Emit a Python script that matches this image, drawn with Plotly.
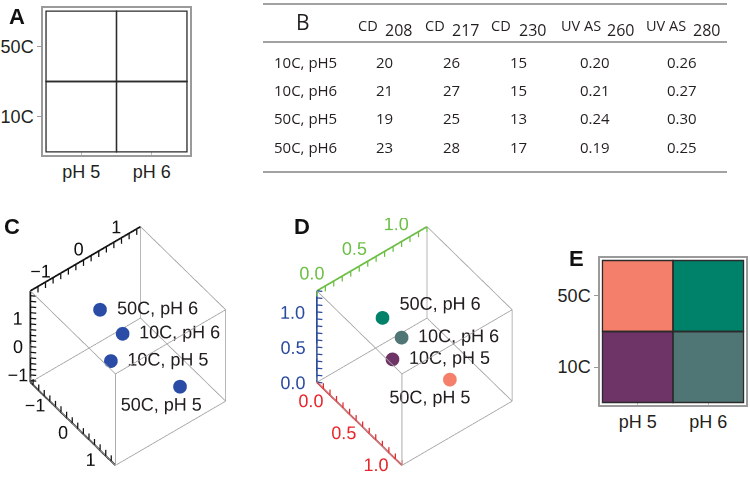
import numpy as np
import plotly.graph_objects as go

W, H = 750, 478

# ---------------- data ----------------
temps = ["10C", "50C"]
phs = ["pH 5", "pH 6"]
conditions = ["10C, pH 5", "10C, pH 6", "50C, pH 5", "50C, pH 6"]
row_labels = ["10C, pH5", "10C, pH6", "50C, pH5", "50C, pH6"]
col_main = ["CD", "CD", "CD", "UV AS", "UV AS"]
col_sub = ["208", "217", "230", "260", "280"]
cd208 = [20, 21, 19, 23]
cd217 = [26, 27, 25, 28]
cd230 = [15, 15, 13, 17]
uv260 = [0.20, 0.21, 0.24, 0.19]
uv280 = [0.26, 0.27, 0.30, 0.25]

# panel C (principal components)
pc1 = [0.06, -0.54, 1.38, -1.20]
pc2 = [-0.43, 0.32, 0.42, 0.21]
pc3 = [0.24, 0.04, -0.06, 0.34]

# panel D (normalised components)
nr = [0.48, 0.36, 1.02, 0.03]
ng = [0.52, 0.72, 0.78, 0.75]
nb = [0.40, 0.46, 0.42, 0.42]

cond_colors = ["#6E3467", "#4F7674", "#F4806B", "#00826A"]

C_range = [[-1.5, 1.55], [-1.4, 1.5], [-1.26, 1.97]]
D_range = [[0.0, 1.3], [0.0, 1.3], [0.0, 1.3]]
C_ticks = [-1, 0, 1]
D_ticks = [0.0, 0.5, 1.0]

# label placement (styling only): text position and small nudges in data units
c_text_pos = ["middle right", "middle right", "middle center", "middle right"]
c_nudge = [(0, 0, 0), (0, 0, 0), (0, -0.494, -0.30), (0, 0, 0)]
d_text_pos = ["middle right", "middle right", "middle center", "middle right"]
d_nudge = [(0, 0, 0), (0, 0, 0), (0, -0.236, -0.107), (0, 0, 0.18)]


def px(x):
    return x / W


def py(y):
    return 1 - y / H


fig = go.Figure()

# ---------------- panel A ----------------
fig.add_trace(go.Heatmap(x=phs, y=temps, z=[[0, 0], [0, 0]],
                         colorscale=[[0, "white"], [1, "white"]], showscale=False,
                         xaxis="x", yaxis="y", hoverinfo="skip"))

# ---------------- panel E ----------------
zidx = [[conditions.index(f"{t}, {p}") for p in phs] for t in temps]
cscale = [[k / 3, c] for k, c in enumerate(cond_colors)]
fig.add_trace(go.Heatmap(x=phs, y=temps, z=zidx, zmin=0, zmax=3,
                         colorscale=cscale, showscale=False,
                         xaxis="x2", yaxis="y2", hoverinfo="skip"))

shapes = []
for xa_, ya_ in (("x", "y"), ("x2", "y2")):
    for i in range(len(phs)):
        for j in range(len(temps)):
            shapes.append(dict(type="rect", xref=xa_, yref=ya_,
                               x0=i - 0.5, x1=i + 0.5, y0=j - 0.5, y1=j + 0.5,
                               line=dict(color="#2b2b2b", width=1.3), layer="above"))

# ---------------- 3D helpers ----------------

def box_edges(rng):
    xs, ys, zs = [], [], []
    (x0, x1), (y0, y1), (z0, z1) = rng
    for a in (y0, y1):
        for b in (z0, z1):
            xs += [x0, x1, None]; ys += [a, a, None]; zs += [b, b, None]
    for a in (x0, x1):
        for b in (z0, z1):
            xs += [a, a, None]; ys += [y0, y1, None]; zs += [b, b, None]
    for a in (x0, x1):
        for b in (y0, y1):
            xs += [a, a, None]; ys += [b, b, None]; zs += [z0, z1, None]
    return xs, ys, zs


def axis_traces(scene, rng, idx, fixed, tickvals, tdir, tlen, loff, labels_at, color, fmt):
    spans = [r[1] - r[0] for r in rng]
    traces = []
    p0 = list(fixed); p1 = list(fixed)
    p0[idx] = rng[idx][0]; p1[idx] = rng[idx][1]
    traces.append(go.Scatter3d(x=[p0[0], p1[0]], y=[p0[1], p1[1]], z=[p0[2], p1[2]],
                               mode="lines", line=dict(color=color, width=3.5),
                               scene=scene, hoverinfo="skip", showlegend=False))
    xs, ys, zs = [], [], []
    for v in tickvals:
        a = list(fixed); a[idx] = v
        b = [a[k] + tdir[k] * tlen * spans[k] for k in range(3)]
        xs += [a[0], b[0], None]; ys += [a[1], b[1], None]; zs += [a[2], b[2], None]
    traces.append(go.Scatter3d(x=xs, y=ys, z=zs, mode="lines",
                               line=dict(color=color, width=2.5),
                               scene=scene, hoverinfo="skip", showlegend=False))
    lx, ly, lz, lt = [], [], [], []
    for v in labels_at:
        a = list(fixed); a[idx] = v
        b = [a[k] + loff[k] * spans[k] for k in range(3)]
        lx.append(b[0]); ly.append(b[1]); lz.append(b[2]); lt.append(fmt(v))
    traces.append(go.Scatter3d(x=lx, y=ly, z=lz, mode="text", text=lt,
                               textposition="middle center",
                               textfont=dict(family="Arial", size=18, color=color),
                               scene=scene, hoverinfo="skip", showlegend=False))
    return traces


def add_box(scene, rng):
    xs, ys, zs = box_edges(rng)
    fig.add_trace(go.Scatter3d(x=xs, y=ys, z=zs, mode="lines",
                               line=dict(color="#a0a0a0", width=1.6),
                               scene=scene, hoverinfo="skip", showlegend=False))


def add_points(scene, xs, ys, zs, colors, textpos, nudge):
    fig.add_trace(go.Scatter3d(x=xs, y=ys, z=zs, mode="markers",
                               marker=dict(size=8, color=colors, line=dict(width=0)),
                               scene=scene, hoverinfo="skip", showlegend=False))
    fig.add_trace(go.Scatter3d(x=[v + n[0] for v, n in zip(xs, nudge)],
                               y=[v + n[1] for v, n in zip(ys, nudge)],
                               z=[v + n[2] for v, n in zip(zs, nudge)],
                               mode="text", text=conditions, textposition=textpos,
                               textfont=dict(family="Arial", size=18, color="#231f20"),
                               scene=scene, hoverinfo="skip", showlegend=False))


def fmt_int(v):
    return "\u2212" + str(abs(int(v))) if v < 0 else str(int(v))


def fmt_1(v):
    return f"{v:.1f}"

# ---------------- panel C ----------------
add_box("scene", C_range)
cx, cy, cz = C_range
ticks_c_x = np.round(np.arange(-1.4, 1.41, 0.2), 2)
ticks_c_y = np.round(np.arange(-1.4, 1.41, 0.2), 2)
ticks_c_z = np.round(np.arange(-1.2, 1.81, 0.2), 2)
for t in axis_traces("scene", C_range, 1, [cx[0], 0, cz[1]], ticks_c_y,
                     (0, 0, -1), 0.065, (-0.06, 0, 0.065), C_ticks, "#111111", fmt_int):
    fig.add_trace(t)
for t in axis_traces("scene", C_range, 2, [cx[0], cy[0], 0], ticks_c_z,
                     (1, 1, 0), 0.03, (-0.056, -0.071, 0), C_ticks, "#111111", fmt_int):
    fig.add_trace(t)
for t in axis_traces("scene", C_range, 0, [0, cy[0], cz[0]], ticks_c_x,
                     (0, 0, 1), 0.065, (0, -0.085, -0.04), C_ticks, "#111111", fmt_int):
    fig.add_trace(t)
add_points("scene", pc1, pc2, pc3, "#2A4BA6", c_text_pos, c_nudge)

# ---------------- panel D ----------------
add_box("scene2", D_range)
dx, dy, dz = D_range
ticks_d = np.round(np.arange(0.0, 1.31, 0.1), 2)
for t in axis_traces("scene2", D_range, 1, [dx[0], 0, dz[1]], ticks_d,
                     (0, 0, -1), 0.06, (-0.06, 0, 0.14), D_ticks, "#6CBE45", fmt_1):
    fig.add_trace(t)
for t in axis_traces("scene2", D_range, 2, [dx[0], dy[0], 0], ticks_d,
                     (1, 1, 0), 0.028, (-0.103, -0.139, 0), D_ticks, "#2B4C9E", fmt_1):
    fig.add_trace(t)
for t in axis_traces("scene2", D_range, 0, [0, dy[0], dz[0]], ticks_d,
                     (0, 0, 1), 0.06, (0, -0.055, -0.163), D_ticks, "#E8262C", fmt_1):
    fig.add_trace(t)
add_points("scene2", nr, ng, nb, cond_colors, d_text_pos, d_nudge)

# ---------------- scenes layout ----------------
view = np.array([0.519, -0.401, 0.753])
view = view / np.linalg.norm(view)
EYE_K = 1.6
PAD = 0.3
ZOOM = 1.74


def scene_layout(rng, xdom, ydom):
    axes = {}
    for name, r in zip(("xaxis", "yaxis", "zaxis"), rng):
        s = r[1] - r[0]
        axes[name] = dict(visible=False, range=[r[0] - PAD * s, r[1] + PAD * s],
                          showbackground=False, showspikes=False)
    e = view * EYE_K
    return dict(domain=dict(x=xdom, y=ydom), aspectmode="manual",
                aspectratio=dict(x=ZOOM, y=ZOOM, z=ZOOM),
                bgcolor="rgba(0,0,0,0)",
                camera=dict(eye=dict(x=e[0], y=e[1], z=e[2]), up=dict(x=0, y=0, z=1),
                            center=dict(x=0, y=0, z=0),
                            projection=dict(type="orthographic")),
                **axes)


# ---------------- table (panel B) ----------------
ann = []


def add_text(text, x, y, size, family="Open Sans", xanchor="center", color="#231f20"):
    ann.append(dict(text=text, x=px(x), y=py(y), xref="paper", yref="paper", showarrow=False,
                    xanchor=xanchor, yanchor="middle",
                    font=dict(family=family, size=size, color=color)))


add_text("B", 303, 22, 21)
main_right = [380, 447, 513, 603, 688]
sub_left = [383, 450, 517, 605, 691]
for m, s, xr, xl in zip(col_main, col_sub, main_right, sub_left):
    add_text(m, xr, 25, 14.5, xanchor="right")
    add_text(s, xl, 30, 16, xanchor="left")
col_x = [384, 451, 518, 595, 682]
row_y = [62, 90, 118, 147]
cols = [[str(v) for v in cd208], [str(v) for v in cd217], [str(v) for v in cd230],
        [f"{v:.2f}" for v in uv260], [f"{v:.2f}" for v in uv280]]
for r, lab in enumerate(row_labels):
    add_text(lab, 272, row_y[r], 15, xanchor="left")
    for c in range(5):
        add_text(cols[c][r], col_x[c], row_y[r], 15)
for yy in (4, 42, 172):
    shapes.append(dict(type="line", xref="paper", yref="paper", x0=px(263), x1=px(727),
                       y0=py(yy), y1=py(yy), line=dict(color="#444444", width=1)))

# panel letters
for letter, (lx, ly) in {"A": (17, 17), "C": (12, 226), "D": (302, 226), "E": (576, 258)}.items():
    add_text(f"<b>{letter}</b>", lx, ly, 22, family="Arial", color="#111111")

tickfont = dict(family="Arial", size=18, color="#231f20")


def xa(dom, pad, anchor):
    return dict(domain=dom, anchor=anchor, range=[-0.5 - pad, 1.5 + pad], showline=True,
                linecolor="#9a9a9a", linewidth=1.5, mirror=True, showgrid=False,
                zeroline=False, ticks="inside", ticklen=3, tickcolor="#c0c0c0",
                tickfont=tickfont, fixedrange=True)


def ya(dom, pad, anchor):
    return dict(domain=dom, anchor=anchor, range=[-0.5 - pad, 1.5 + pad], showline=True,
                linecolor="#9a9a9a", linewidth=1.5, mirror=True, showgrid=False,
                zeroline=False, ticks="outside", ticklen=4, tickcolor="#9a9a9a",
                tickfont=tickfont, fixedrange=True)


fig.update_layout(
    width=W, height=H, margin=dict(l=0, r=0, t=0, b=0),
    paper_bgcolor="white", plot_bgcolor="white", showlegend=False,
    xaxis=xa([px(43), px(190)], 0.043, "y"), yaxis=ya([py(155), py(8)], 0.043, "x"),
    xaxis2=xa([px(600), px(746)], 0.035, "y2"), yaxis2=ya([py(405), py(258)], 0.035, "x2"),
    scene=scene_layout(C_range, [px(0), px(256)], [py(474), py(218)]),
    scene2=scene_layout(D_range, [px(276), px(553)], [py(474), py(218)]),
    annotations=ann, shapes=shapes,
)

fig.write_html("out.html", config={"displayModeBar": False},
               post_script="document.body.style.margin='0';")
